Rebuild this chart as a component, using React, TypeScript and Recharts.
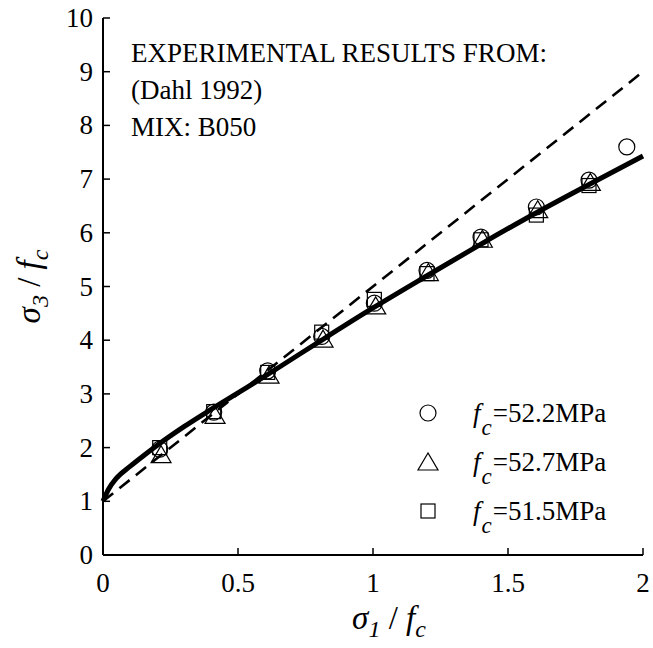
import React from 'react';
import { ComposedChart, Line, Scatter, XAxis, YAxis, Legend } from 'recharts';

const FONT = '"Liberation Serif", "Times New Roman", serif';

const xTicks = [0, 0.5, 1, 1.5, 2];
const yTicks = [0, 1, 2, 3, 4, 5, 6, 7, 8, 9, 10];

// model curve (solid) and linear criterion (dashed)
const modelCurve = [
  { x: 0, y: 1 }, { x: 0.02, y: 1.22 }, { x: 0.05, y: 1.43 }, { x: 0.1, y: 1.65 },
  { x: 0.15, y: 1.85 }, { x: 0.2, y: 2.04 }, { x: 0.3, y: 2.39 }, { x: 0.4, y: 2.71 },
  { x: 0.5, y: 3.02 }, { x: 0.6, y: 3.33 }, { x: 0.7, y: 3.65 }, { x: 0.8, y: 3.97 },
  { x: 1.0, y: 4.6 }, { x: 1.2, y: 5.2 }, { x: 1.4, y: 5.79 }, { x: 1.6, y: 6.36 },
  { x: 1.8, y: 6.9 }, { x: 2.0, y: 7.43 },
];
const linearLine = [{ x: 0, y: 1 }, { x: 2, y: 9 }];

// experimental points (Dahl 1992, B050)
const circlePts = [
  { x: 0.21, y: 1.97 }, { x: 0.41, y: 2.66 }, { x: 0.61, y: 3.43 }, { x: 0.81, y: 4.07 },
  { x: 1.005, y: 4.69 }, { x: 1.2, y: 5.3 }, { x: 1.4, y: 5.92 }, { x: 1.605, y: 6.48 },
  { x: 1.8, y: 6.98 }, { x: 1.94, y: 7.6 },
];
const trianglePts = [
  { x: 0.215, y: 1.87 }, { x: 0.415, y: 2.6 }, { x: 0.615, y: 3.35 }, { x: 0.815, y: 4.02 },
  { x: 1.01, y: 4.64 }, { x: 1.205, y: 5.26 }, { x: 1.405, y: 5.88 }, { x: 1.61, y: 6.43 },
  { x: 1.805, y: 6.94 },
];
const squarePts = [
  { x: 0.21, y: 2.0 }, { x: 0.41, y: 2.67 }, { x: 0.61, y: 3.4 }, { x: 0.81, y: 4.15 },
  { x: 1.005, y: 4.76 }, { x: 1.2, y: 5.24 }, { x: 1.4, y: 5.87 }, { x: 1.605, y: 6.33 },
  { x: 1.8, y: 6.88 },
];

const legendValues = ['52.2MPa', '52.7MPa', '51.5MPa'];
const legendShapes = ['circle', 'triangle', 'square'];
const noteLines = ['EXPERIMENTAL RESULTS FROM:', '(Dahl 1992)', 'MIX: B050'];

const drawMarker = (kind: string, cx: number, cy: number, key?: any) => {
  const common = { fill: 'none', stroke: '#000', strokeWidth: 1.2 };
  if (kind === 'circle') return <circle key={key} cx={cx} cy={cy} r={8} {...common} />;
  if (kind === 'triangle')
    return <polygon key={key} points={`${cx},${cy - 9} ${cx - 10},${cy + 8} ${cx + 10},${cy + 8}`} {...common} />;
  return <rect key={key} x={cx - 7} y={cy - 7} width={14} height={14} {...common} />;
};

const BottomTick = (props: any) => {
  const { x, y, payload } = props;
  return (
    <g>
      <line x1={x} y1={y} x2={x} y2={y - 7} stroke="#000" strokeWidth={1.5} />
      <text x={x} y={y + 37} textAnchor="middle" fontSize={27} fontFamily={FONT} fill="#000">
        {payload.value}
      </text>
    </g>
  );
};

const LeftTick = (props: any) => {
  const { x, y, payload } = props;
  return (
    <g>
      <line x1={x} y1={y} x2={x + 7} y2={y} stroke="#000" strokeWidth={1.5} />
      <text x={x - 10} y={y + 9} textAnchor="end" fontSize={27} fontFamily={FONT} fill="#000">
        {payload.value}
      </text>
    </g>
  );
};

const TopTick = (props: any) => {
  const { x, y } = props;
  return <line x1={x} y1={y} x2={x} y2={y + 7} stroke="#000" strokeWidth={1.5} />;
};

const RightTick = (props: any) => {
  const { x, y } = props;
  return <line x1={x} y1={y} x2={x - 7} y2={y} stroke="#000" strokeWidth={1.5} />;
};

const XLabel = (props: any) => {
  const { viewBox } = props;
  const cx = viewBox.x + viewBox.width / 2 + 16;
  return (
    <text x={cx} y={viewBox.y + 74} textAnchor="middle" fontSize={33} fontFamily={FONT} fill="#000">
      <tspan fontStyle="italic">σ</tspan>
      <tspan fontStyle="italic" fontSize={24} dy={8}>1</tspan>
      <tspan dy={-8}> / </tspan>
      <tspan fontStyle="italic">f</tspan>
      <tspan fontStyle="italic" fontSize={24} dy={8}>c</tspan>
    </text>
  );
};

const YLabel = (props: any) => {
  const { viewBox } = props;
  const cx = 40;
  const cy = viewBox.y + viewBox.height / 2;
  return (
    <text x={cx} y={cy} transform={`rotate(-90 ${cx} ${cy})`} textAnchor="middle" fontSize={33} fontFamily={FONT} fill="#000">
      <tspan fontStyle="italic">σ</tspan>
      <tspan fontStyle="italic" fontSize={24} dy={8}>3</tspan>
      <tspan dy={-8}> / </tspan>
      <tspan fontStyle="italic">f</tspan>
      <tspan fontStyle="italic" fontSize={24} dy={8}>c</tspan>
    </text>
  );
};

const LegendBox = () => (
  <svg width={240} height={175}>
    {legendValues.map((v, i) => {
      const cy = 28 + i * 49;
      return (
        <g key={v}>
          {drawMarker(legendShapes[i], 18, cy)}
          <text x={63} y={cy + 9} fontSize={27} fontFamily={FONT} fill="#000">
            <tspan fontStyle="italic">f</tspan>
            <tspan fontStyle="italic" fontSize={23} dx={1} dy={13}>c</tspan>
            <tspan dx={1} dy={-13}>={v}</tspan>
          </text>
        </g>
      );
    })}
  </svg>
);

export default function App() {
  return (
    <div style={{ position: 'relative', width: 653, height: 648 }}>
      <style>{'body{margin:0}'}</style>
      <ComposedChart width={653} height={648} margin={{ top: 18, right: 10, bottom: 0, left: 0 }}>
        <XAxis
          xAxisId="bottom"
          dataKey="x"
          type="number"
          domain={[0, 2]}
          ticks={xTicks}
          height={93}
          tickSize={0}
          tickMargin={0}
          tickLine={false}
          axisLine={{ stroke: '#000', strokeWidth: 2 }}
          tick={<BottomTick />}
          label={{ content: <XLabel /> }}
        />
        <XAxis
          xAxisId="top"
          orientation="top"
          dataKey="x"
          type="number"
          domain={[0, 2]}
          ticks={xTicks}
          height={0}
          tickSize={0}
          tickMargin={0}
          tickLine={false}
          axisLine={{ stroke: '#000', strokeWidth: 2 }}
          tick={<TopTick />}
        />
        <YAxis
          yAxisId="left"
          dataKey="y"
          type="number"
          domain={[0, 10]}
          ticks={yTicks}
          width={103}
          tickSize={0}
          tickMargin={0}
          tickLine={false}
          axisLine={{ stroke: '#000', strokeWidth: 2 }}
          tick={<LeftTick />}
          label={{ content: <YLabel /> }}
        />
        <YAxis
          yAxisId="right"
          orientation="right"
          dataKey="y"
          type="number"
          domain={[0, 10]}
          ticks={yTicks}
          width={0}
          tickSize={0}
          tickMargin={0}
          tickLine={false}
          axisLine={{ stroke: '#000', strokeWidth: 2 }}
          tick={<RightTick />}
        />
        <Line
          xAxisId="top"
          yAxisId="right"
          data={linearLine}
          dataKey="y"
          type="linear"
          stroke="#000"
          strokeWidth={2.6}
          strokeDasharray="13 8"
          dot={false}
          isAnimationActive={false}
        />
        <Line
          xAxisId="bottom"
          yAxisId="left"
          data={modelCurve}
          dataKey="y"
          type="monotone"
          stroke="#000"
          strokeWidth={5}
          dot={false}
          isAnimationActive={false}
        />
        <Scatter
          xAxisId="bottom"
          yAxisId="left"
          data={circlePts}
          dataKey="y"
          shape={(p: any) => drawMarker('circle', p.cx, p.cy)}
          isAnimationActive={false}
        />
        <Scatter
          xAxisId="bottom"
          yAxisId="left"
          data={trianglePts}
          dataKey="y"
          shape={(p: any) => drawMarker('triangle', p.cx, p.cy)}
          isAnimationActive={false}
        />
        <Scatter
          xAxisId="bottom"
          yAxisId="left"
          data={squarePts}
          dataKey="y"
          shape={(p: any) => drawMarker('square', p.cx, p.cy)}
          isAnimationActive={false}
        />
        <Legend
          layout="vertical"
          align="center"
          verticalAlign="middle"
          content={<LegendBox />}
          wrapperStyle={{ left: 410, top: 385, width: 240, height: 175 }}
        />
      </ComposedChart>
      <svg width={653} height={648} style={{ position: 'absolute', left: 0, top: 0, pointerEvents: 'none' }}>
        {noteLines.map((t, i) => (
          <text key={t} x={131} y={62 + i * 37} fontSize={27} fontFamily={FONT} fill="#000">
            {t}
          </text>
        ))}
      </svg>
    </div>
  );
}
